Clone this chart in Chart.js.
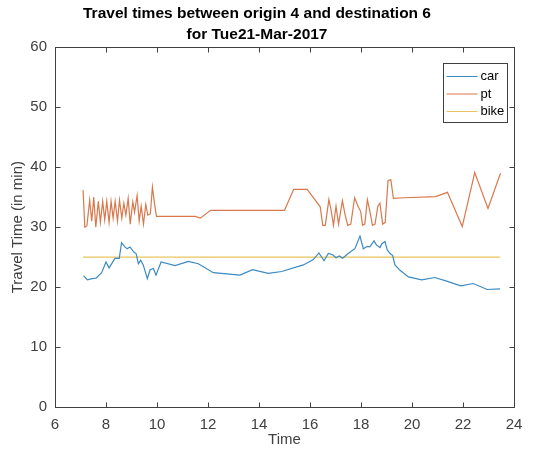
<!DOCTYPE html>
<html>
<head>
<meta charset="utf-8">
<script src="https://cdn.jsdelivr.net/npm/chart.js@4.4.0/dist/chart.umd.min.js"></script>
<style>
  html, body { margin: 0; padding: 0; background: #fff; }
</style>
</head>
<body>
<canvas id="chart1" width="535" height="457"></canvas>
<script>
// time of day (hours) and travel time (minutes)
var carTime = [7.12, 7.27, 7.45, 7.61, 7.83, 8.00, 8.12, 8.35, 8.52, 8.61, 8.74, 8.83, 8.94, 9.10, 9.18, 9.27, 9.36, 9.46, 9.62, 9.73, 9.86, 9.96, 10.16, 10.71, 11.23, 11.62, 12.21, 13.25, 13.75, 14.36, 14.89, 15.74, 16.13, 16.35, 16.55, 16.72, 16.89, 17.02, 17.15, 17.28, 17.50, 17.76, 17.96, 18.09, 18.25, 18.35, 18.51, 18.61, 18.75, 18.81, 18.94, 19.03, 19.14, 19.24, 19.33, 19.53, 19.86, 20.38, 20.90, 21.36, 21.91, 22.40, 22.95, 23.45];
var carMin = [21.9, 21.2, 21.4, 21.5, 22.4, 24.2, 23.2, 24.8, 24.8, 27.4, 26.7, 26.4, 26.7, 25.8, 25.6, 23.9, 24.5, 23.7, 21.4, 22.9, 23.1, 22.0, 24.2, 23.6, 24.3, 23.9, 22.4, 22.0, 22.9, 22.3, 22.6, 23.7, 24.6, 25.7, 24.4, 25.6, 25.4, 24.9, 25.2, 24.8, 25.6, 26.4, 28.5, 26.4, 26.8, 26.7, 27.7, 27.0, 26.6, 27.2, 27.6, 26.2, 25.6, 25.3, 23.7, 22.8, 21.7, 21.2, 21.6, 21.0, 20.2, 20.6, 19.6, 19.7];

var ptTime = [7.10, 7.17, 7.25, 7.36, 7.44, 7.52, 7.60, 7.70, 7.78, 7.87, 7.95, 8.03, 8.12, 8.20, 8.28, 8.36, 8.45, 8.53, 8.62, 8.70, 8.78, 8.87, 8.95, 9.05, 9.12, 9.22, 9.30, 9.38, 9.47, 9.56, 9.64, 9.74, 9.82, 9.90, 9.98, 11.50, 11.70, 12.10, 15.00, 15.36, 15.89, 16.40, 16.50, 16.60, 16.74, 16.82, 16.92, 17.02, 17.12, 17.27, 17.38, 17.48, 17.60, 17.75, 17.88, 17.99, 18.06, 18.15, 18.25, 18.34, 18.45, 18.55, 18.66, 18.74, 18.85, 18.95, 19.06, 19.17, 19.27, 19.69, 20.93, 21.39, 21.97, 22.46, 22.98, 23.47];
var ptMin = [36.2, 30.0, 30.2, 34.5, 31.0, 35.0, 30.0, 34.3, 30.8, 34.3, 31.2, 34.3, 30.8, 34.3, 31.5, 34.3, 31.0, 34.5, 31.5, 34.0, 32.0, 34.8, 30.5, 34.2, 32.5, 35.3, 31.0, 33.5, 30.5, 33.8, 32.0, 32.2, 36.7, 34.0, 31.8, 31.8, 31.5, 32.8, 32.8, 36.3, 36.3, 33.4, 30.3, 30.3, 34.6, 33.0, 30.3, 33.5, 30.5, 34.4, 32.0, 30.3, 30.5, 34.9, 33.5, 32.6, 30.3, 30.5, 34.6, 32.8, 30.3, 30.5, 33.5, 34.0, 30.5, 30.8, 37.8, 37.9, 34.8, 34.9, 35.1, 35.8, 30.1, 39.1, 33.1, 39.0];

var bikeTime = [7.10, 23.45];
var bikeMin = [25, 25];

var seriesNames = ['car', 'pt', 'bike'];
var seriesColors = ['#3b8ac6', '#d9784c', '#e8c45e'];

var xTicks = [6, 8, 10, 12, 14, 16, 18, 20, 22, 24];
var yTicks = [0, 10, 20, 30, 40, 50, 60];

var titleLines = ['Travel times between origin 4 and destination 6', 'for Tue21-Mar-2017'];

var FONT = "'Liberation Sans', Arial, Helvetica, sans-serif";

function toPoints(xs, ys) {
  return xs.map(function(x, i) { return { x: x, y: ys[i] }; });
}

// matlab style box, inward ticks and boxed legend
var matlabBox = {
  id: 'matlabBox',
  afterDatasetsDraw: function(chart) {
    var ctx = chart.ctx;
    var a = chart.chartArea;
    var xs = chart.scales.x, ys = chart.scales.y;
    var L = Math.round(a.left) + 0.5, R = Math.round(a.right) + 0.5;
    var T = Math.round(a.top) + 0.5, B = Math.round(a.bottom) + 0.5;
    ctx.save();
    ctx.strokeStyle = '#404040';
    ctx.lineWidth = 1;
    ctx.strokeRect(L, T, R - L, B - T);
    ctx.beginPath();
    xTicks.forEach(function(v) {
      var px = Math.round(xs.getPixelForValue(v)) + 0.5;
      ctx.moveTo(px, B); ctx.lineTo(px, B - 5);
      ctx.moveTo(px, T); ctx.lineTo(px, T + 5);
    });
    yTicks.forEach(function(v) {
      var py = Math.round(ys.getPixelForValue(v)) + 0.5;
      ctx.moveTo(L, py); ctx.lineTo(L + 5, py);
      ctx.moveTo(R, py); ctx.lineTo(R - 5, py);
    });
    ctx.stroke();

    // legend
    var w = 64, h = 59;
    var lx = Math.round(a.right) - 7 - w + 0.5;
    var ly = Math.round(a.top) + 16 + 0.5;
    ctx.fillStyle = '#fff';
    ctx.fillRect(lx, ly, w, h);
    ctx.strokeStyle = '#404040';
    ctx.strokeRect(lx, ly, w, h);
    ctx.font = '13px ' + FONT;
    ctx.textBaseline = 'middle';
    ctx.textAlign = 'left';
    chart.data.datasets.forEach(function(ds, i) {
      var ry = ly + 13 + i * 17.5;
      ctx.strokeStyle = ds.borderColor;
      ctx.beginPath();
      ctx.moveTo(lx + 3, ry); ctx.lineTo(lx + 34, ry);
      ctx.stroke();
      ctx.fillStyle = '#000';
      ctx.fillText(ds.label, lx + 37, ry);
    });
    ctx.restore();
  }
};

var ctx = document.getElementById('chart1').getContext('2d');
var myChart = new Chart(ctx, {
  type: 'line',
  data: {
    datasets: [
      { label: seriesNames[0], data: toPoints(carTime, carMin), borderColor: seriesColors[0], borderWidth: 1.2, pointRadius: 0, tension: 0, fill: false },
      { label: seriesNames[1], data: toPoints(ptTime, ptMin), borderColor: seriesColors[1], borderWidth: 1.2, pointRadius: 0, tension: 0, fill: false },
      { label: seriesNames[2], data: toPoints(bikeTime, bikeMin), borderColor: seriesColors[2], borderWidth: 1.2, pointRadius: 0, tension: 0, fill: false }
    ]
  },
  options: {
    responsive: false,
    animation: false,
    layout: { padding: { left: 0, right: 21, top: 0, bottom: 0 } },
    plugins: {
      legend: { display: false },
      tooltip: { enabled: false },
      title: {
        display: true,
        text: titleLines,
        color: '#000',
        font: { family: FONT, size: 15.5, weight: 'bold', lineHeight: 1.3 },
        padding: { top: 4, bottom: 3 }
      }
    },
    scales: {
      x: {
        type: 'linear',
        min: 6,
        max: 24,
        afterBuildTicks: function(s) { s.ticks = xTicks.map(function(v) { return { value: v }; }); },
        afterFit: function(s) { s.height = 50; },
        ticks: { color: '#404040', font: { family: FONT, size: 15 }, padding: 1, maxRotation: 0 },
        grid: { display: false },
        border: { display: false },
        title: { display: true, text: 'Time', color: '#404040', font: { family: FONT, size: 15 }, padding: { top: 0, bottom: 8 } }
      },
      y: {
        type: 'linear',
        min: 0,
        max: 60,
        afterBuildTicks: function(s) { s.ticks = yTicks.map(function(v) { return { value: v }; }); },
        afterFit: function(s) { s.width = 55; },
        ticks: { color: '#404040', font: { family: FONT, size: 15 }, padding: 0 },
        grid: { display: false },
        border: { display: false },
        title: { display: true, text: 'Travel Time (in min)', color: '#404040', font: { family: FONT, size: 15 }, padding: { top: 9, bottom: 0 } }
      }
    }
  },
  plugins: [matlabBox]
});
</script>
</body>
</html>
